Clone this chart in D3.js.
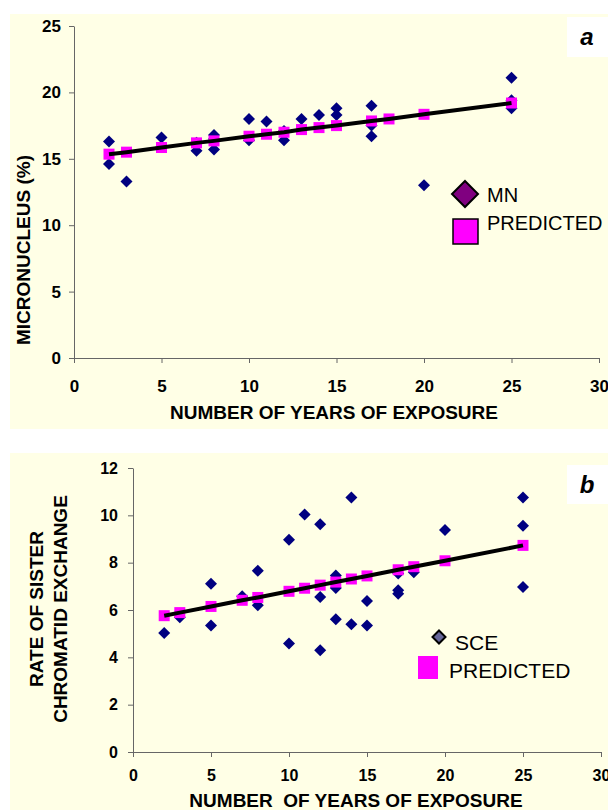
<!DOCTYPE html>
<meta charset="utf-8">
<style>
  body { margin: 0; background: #fff; }
  svg text { font-family: "Liberation Sans", Arial, sans-serif; }
</style>
<body>
<script src="https://cdn.jsdelivr.net/npm/d3@7"></script>
<script>

// ---- panel a : micronucleus
var mnYears  = [2, 2, 3, 5, 5, 7, 7, 8, 8, 8, 10, 10, 11, 12, 12, 13, 14, 15, 15, 17, 17, 17, 20, 25, 25, 25];
var mnValues = [16.3, 14.6, 13.3, 16.6, 15.9, 15.6, 16.2, 16.8, 15.7, 16.5, 18.0, 16.4, 17.8, 16.4, 17.1,
                18.0, 18.3, 18.8, 18.3, 19.0, 16.7, 17.5, 13.0, 21.1, 19.4, 18.8];
var mnPredYears  = [2, 3, 5, 7, 8, 10, 11, 12, 13, 14, 15, 17, 18, 20, 25];
var mnPredValues = [15.35, 15.5, 15.85, 16.2, 16.35, 16.7, 16.85, 17.0, 17.2, 17.35, 17.5, 17.85, 18.0, 18.35, 19.2];
var mnYTicks = [0, 5, 10, 15, 20, 25];

// ---- panel b : sister chromatid exchange
var sceYears  = [2, 3, 5, 5, 7, 8, 8, 10, 10, 11, 12, 12, 12, 13, 13, 13, 14, 14, 15, 15, 17, 17, 17, 18, 20, 25, 25, 25];
var sceValues = [5.03, 5.69, 7.11, 5.35, 6.58, 7.66, 6.2, 8.97, 4.58, 10.03, 9.62, 6.55, 4.3, 7.46, 6.93, 5.61,
                 10.75, 5.4, 6.38, 5.35, 7.54, 6.83, 6.69, 7.6, 9.38, 10.75, 9.56, 6.97];
var scePredYears  = [2, 3, 5, 7, 8, 10, 11, 12, 13, 14, 15, 17, 18, 20, 25];
var scePredValues = [5.76, 5.89, 6.15, 6.41, 6.53, 6.79, 6.92, 7.05, 7.18, 7.31, 7.44, 7.70, 7.83, 8.08, 8.73];
var sceYTicks = [0, 2, 4, 6, 8, 10, 12];

var xTicks = [0, 5, 10, 15, 20, 25, 30];

var bg = "#ffffe6", navy = "#000080", magenta = "#ff00ff", axisColor = "#666";

var svg = d3.select("body").append("svg")
            .attr("width", 608)
            .attr("height", 810);

function drawPanel(p) {
  var g = svg.append("g");

  g.append("rect")
   .attr("x", 10).attr("y", p.top)
   .attr("width", 598).attr("height", p.bottom - p.top)
   .attr("fill", bg);

  var x = d3.scaleLinear().domain([0, 30]).range([p.x0, p.x1]);
  var y = d3.scaleLinear().domain([0, d3.max(p.yTicks)]).range([p.y0, p.y1]);

  var xa = g.append("g")
    .attr("transform", "translate(0," + p.y0 + ")")
    .call(d3.axisBottom(x).tickValues(xTicks).tickSize(5).tickSizeOuter(0).tickPadding(p.xPad));
  var ya = g.append("g")
    .attr("transform", "translate(" + p.x0 + ",0)")
    .call(d3.axisLeft(y).tickValues(p.yTicks).tickSize(5).tickSizeOuter(0).tickPadding(p.yPad));

  [xa, ya].forEach(function(a){
    a.selectAll("path, line").attr("stroke", axisColor);
    a.selectAll("text")
     .attr("fill", "#000")
     .style("font-size", p.tickFont + "px")
     .style("font-weight", "bold")
     .style("font-family", "'Liberation Sans', Arial, sans-serif");
  });

  // observed values (diamonds)
  var obs = p.obsX.map(function(d, i){ return [d, p.obsY[i]]; });
  g.selectAll("path.obs")
   .data(obs)
   .enter().append("path")
   .attr("class", "obs")
   .attr("d", d3.symbol().type(d3.symbolSquare).size(72))
   .attr("transform", function(d){ return "translate(" + x(d[0]) + "," + y(d[1]) + ") rotate(45)"; })
   .attr("fill", navy);

  // predicted values (squares)
  var pred = p.predX.map(function(d, i){ return [d, p.predY[i]]; });
  g.selectAll("rect.pred")
   .data(pred)
   .enter().append("rect")
   .attr("class", "pred")
   .attr("x", function(d){ return x(d[0]) - 5.5; })
   .attr("y", function(d){ return y(d[1]) - 5.5; })
   .attr("width", 11).attr("height", 11)
   .attr("fill", magenta);

  // regression line
  g.append("path")
   .datum(pred)
   .attr("d", d3.line().x(function(d){ return x(d[0]); }).y(function(d){ return y(d[1]); }))
   .attr("fill", "none")
   .attr("stroke", "#000")
   .attr("stroke-width", 4);

  // x title
  g.append("text")
   .attr("x", p.xTitleX).attr("y", p.xTitleY)
   .attr("text-anchor", "middle")
   .style("font-size", "19px").style("font-weight", "bold")
   .style("white-space", "pre")
   .text(p.xTitle);

  // y title (one or two lines)
  p.yTitle.forEach(function(t, i){
    g.append("text")
     .attr("transform", "translate(" + p.yTitleX[i] + "," + p.yTitleY + ") rotate(-90)")
     .attr("text-anchor", "middle")
     .style("font-size", "19px").style("font-weight", "bold")
     .text(t);
  });

  // panel letter
  g.append("rect")
   .attr("x", 567).attr("y", p.letterBox[0])
   .attr("width", 41).attr("height", p.letterBox[1])
   .attr("fill", "#fff");
  g.append("text")
   .attr("x", 587).attr("y", p.letterBox[0] + p.letterBox[1] / 2 + 8)
   .attr("text-anchor", "middle")
   .style("font-size", "24px").style("font-weight", "bold").style("font-style", "italic")
   .text(p.letter);

  return g;
}

var ga = drawPanel({
  top: 14, bottom: 429,
  x0: 74, x1: 599, y0: 358, y1: 26,
  yTicks: mnYTicks, tickFont: 17, xPad: 17, yPad: 8,
  obsX: mnYears, obsY: mnValues, predX: mnPredYears, predY: mnPredValues,
  xTitle: "NUMBER OF YEARS OF EXPOSURE", xTitleX: 334, xTitleY: 419,
  yTitle: ["MICRONUCLEUS (%)"], yTitleX: [30], yTitleY: 250,
  letter: "a", letterBox: [17, 40]
});

var gb = drawPanel({
  top: 453, bottom: 810,
  x0: 133, x1: 601, y0: 752, y1: 468,
  yTicks: sceYTicks, tickFont: 16, xPad: 13, yPad: 10,
  obsX: sceYears, obsY: sceValues, predX: scePredYears, predY: scePredValues,
  xTitle: "NUMBER  OF YEARS OF EXPOSURE", xTitleX: 356, xTitleY: 807,
  yTitle: ["RATE OF SISTER", "CHROMATID EXCHANGE"], yTitleX: [43, 67], yTitleY: 609,
  letter: "b", letterBox: [465, 39]
});

// ---- legends
var diamond = function(s){ return "M0," + (-s) + "L" + s + ",0L0," + s + "L" + (-s) + ",0Z"; };

ga.append("path").attr("d", diamond(13))
  .attr("transform", "translate(465,194)")
  .attr("fill", "#800080").attr("stroke", "#000").attr("stroke-width", 2);
ga.append("text").attr("x", 487).attr("y", 202)
  .style("font-size", "20px").text("MN");
ga.append("rect").attr("x", 453).attr("y", 219).attr("width", 25).attr("height", 25)
  .attr("fill", magenta).attr("stroke", "#000").attr("stroke-width", 1.5);
ga.append("text").attr("x", 487).attr("y", 230)
  .style("font-size", "20px").text("PREDICTED");

gb.append("path").attr("d", diamond(6.5))
  .attr("transform", "translate(439,637)")
  .attr("fill", "#666699").attr("stroke", "#000").attr("stroke-width", 2);
gb.append("text").attr("x", 455).attr("y", 650)
  .style("font-size", "21px").text("SCE");
gb.append("rect").attr("x", 418).attr("y", 656).attr("width", 20).attr("height", 23)
  .attr("fill", magenta);
gb.append("text").attr("x", 449).attr("y", 678)
  .style("font-size", "21px").text("PREDICTED");

</script>
</body>
